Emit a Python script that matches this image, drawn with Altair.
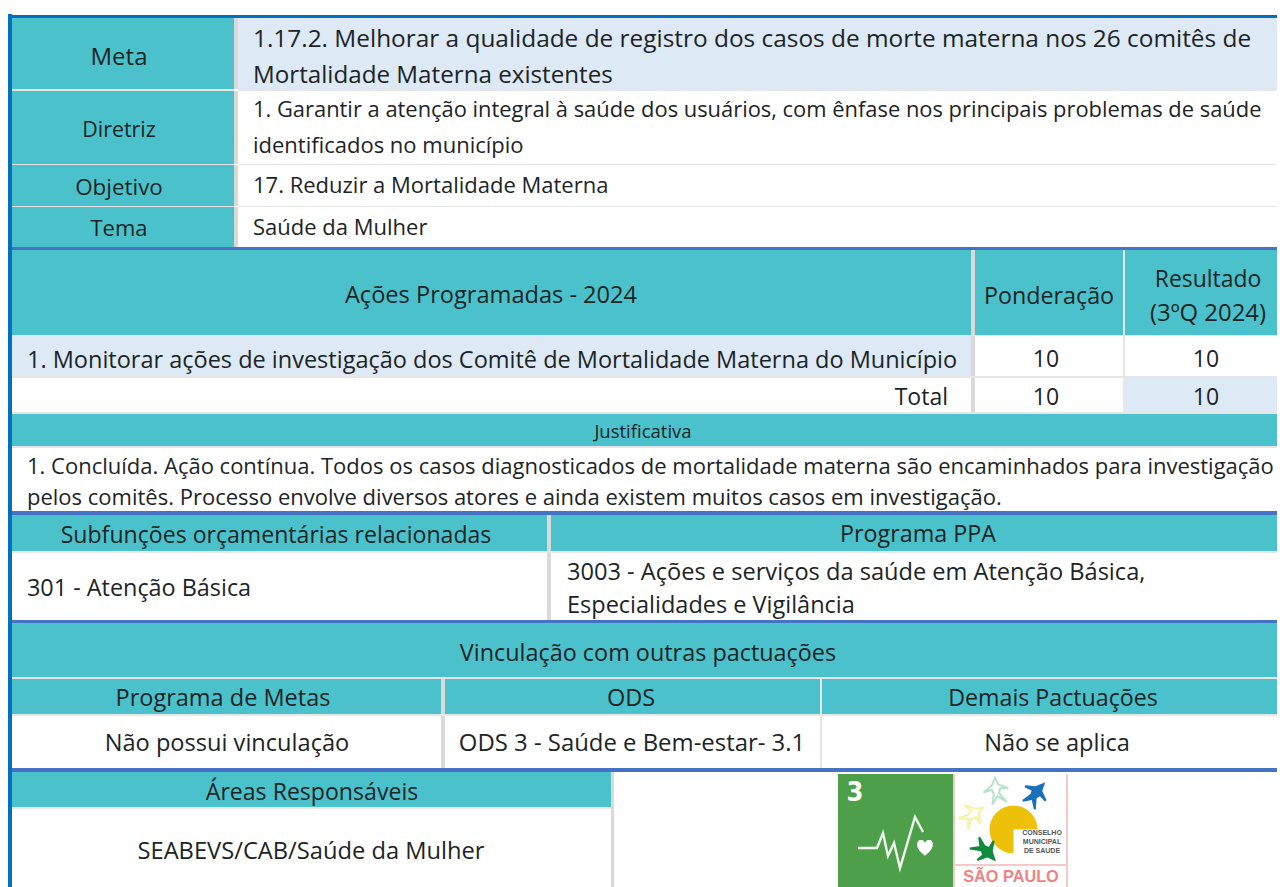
import altair as alt
import pandas as pd

FONT = "Open Sans"
TEAL = "#4BC2CB"
PALE = "#DDE9F5"
BLUE = "#4472C4"
EDGE = "#0070C0"
GREY = "#D9D9D9"
LINE = "#E7E6E6"
WHITE = "#FFFFFF"
INK = "#1C2426"

# table cells: left, right, top, bottom, fill
cell_x0 = [8, 8, 12, 234, 238, 12, 234, 238, 12, 234, 238, 12, 234, 238, 12, 12, 971, 975, 1123, 1125, 12, 971, 975, 1123, 1125, 12, 971, 975, 1123, 1125,
           12, 12, 12, 547, 551, 12, 547, 551, 12, 12, 441, 445, 820, 822, 12, 441, 445, 820, 822, 12, 12, 611]
cell_x1 = [12, 1285, 234, 238, 1285, 234, 238, 1285, 234, 238, 1285, 234, 238, 1285, 1285, 971, 975, 1123, 1125, 1285, 971, 975, 1123, 1125, 1285, 971, 975, 1123, 1125, 1285,
           1285, 1285, 547, 551, 1285, 547, 551, 1285, 1285, 441, 445, 820, 822, 1285, 441, 445, 820, 822, 1285, 611, 611, 614]
cell_y0 = [14, 15, 18, 18, 18, 91, 91, 91, 165, 165, 165, 207, 207, 207, 247, 250, 250, 250, 250, 250, 336, 336, 336, 336, 336, 378, 378, 378, 378, 378,
           414, 448, 515, 515, 515, 553, 553, 553, 623, 679, 679, 679, 679, 679, 716, 716, 716, 716, 716, 772, 809, 772]
cell_y1 = [887, 18, 89, 89, 89, 164, 164, 164, 206, 206, 206, 247, 247, 247, 250, 335, 335, 335, 335, 335, 376, 376, 376, 376, 376, 412, 412, 412, 412, 412,
           446, 511, 551, 551, 551, 620, 623, 620, 677, 714, 714, 714, 714, 714, 768, 772, 768, 768, 768, 807, 887, 887]
cell_fill = [EDGE, EDGE, TEAL, GREY, PALE, TEAL, GREY, WHITE, TEAL, GREY, WHITE, TEAL, GREY, WHITE, BLUE, TEAL, GREY, TEAL, LINE, TEAL, PALE, GREY, WHITE, LINE, WHITE, WHITE, GREY, WHITE, LINE, PALE,
             TEAL, WHITE, TEAL, GREY, TEAL, WHITE, GREY, WHITE, TEAL, TEAL, GREY, TEAL, LINE, TEAL, WHITE, GREY, WHITE, LINE, WHITE, TEAL, WHITE, GREY]

# horizontal rules between rows: left, right, top, bottom, colour
rule_x0 = [12, 238, 12, 238, 12, 238, 12, 12, 12, 12, 12, 12, 12, 12, 12, 12, 12]
rule_x1 = [234, 1285, 234, 1285, 234, 1285, 1285, 1285, 1285, 1285, 1285, 1285, 1285, 1285, 1285, 1285, 611]
rule_y0 = [89, 89, 164, 164, 206, 206, 335, 376, 412, 446, 511, 551, 620, 677, 714, 768, 807]
rule_y1 = [91, 91, 165, 165, 207, 207, 336, 378, 414, 448, 515, 553, 623, 679, 716, 772, 809]
rule_c = ["#E4E4E4", LINE, "#E4E4E4", LINE, "#E4E4E4", LINE, LINE, LINE, LINE, LINE, BLUE, LINE, BLUE, LINE, LINE, BLUE, LINE]

# text rows
left_text = [
    "1.17.2. Melhorar a qualidade de registro dos casos de morte materna nos 26 comitês de",
    "Mortalidade Materna existentes",
    "1. Garantir a atenção integral à saúde dos usuários, com ênfase nos principais problemas de saúde",
    "identificados no município",
    "17. Reduzir a Mortalidade Materna",
    "Saúde da Mulher",
    "1. Monitorar ações de investigação dos Comitê de Mortalidade Materna do Município",
    "1. Concluída. Ação contínua. Todos os casos diagnosticados de mortalidade materna são encaminhados para investigação",
    "pelos comitês. Processo envolve diversos atores e ainda existem muitos casos em investigação.",
    "301 - Atenção Básica",
    "3003 - Ações e serviços da saúde em Atenção Básica,",
    "Especialidades e Vigilância",
]
left_x = [253, 253, 253, 253, 253, 253, 27, 27, 27, 27, 567, 567]
left_y = [38, 74, 108, 144, 184, 226, 359, 465, 496, 587, 571, 604]
left_size = [24.4, 24.2, 21.9, 22, 22, 22, 23.5, 22, 22, 23.4, 23.6, 23.5]

center_text = ["Meta", "Diretriz", "Objetivo", "Tema", "Ações Programadas - 2024", "Ponderação", "Resultado", "(3ºQ 2024)",
               "10", "10", "10", "10", "Justificativa", "Subfunções orçamentárias relacionadas", "Programa PPA",
               "Vinculação com outras pactuações", "Programa de Metas", "ODS", "Demais Pactuações",
               "Não possui vinculação", "ODS 3 - Saúde e Bem-estar- 3.1", "Não se aplica",
               "Áreas Responsáveis", "SEABEVS/CAB/Saúde da Mulher"]
center_x = [119, 119, 119, 119, 491, 1049, 1208, 1208, 1046, 1206, 1046, 1206, 643, 276, 918, 648, 223, 631, 1053, 227, 632, 1057, 312, 311]
center_y = [56, 129, 186, 227, 294, 295, 278, 312, 358, 358, 396, 396, 430, 534, 533, 652, 697, 697, 697, 742, 742, 742, 791, 850]
center_size = [24, 21.4, 22.4, 22, 23.6, 23.3, 22.9, 23.9, 23, 23, 23, 23, 18.5, 23.1, 23.3, 23.4, 23.5, 23.5, 23.2, 23.6, 23.9, 23.6, 23.1, 23.7]

right_text = ["Total"]
right_x = [948]
right_y = [396]
right_size = [23]

# emblem
logo_x0 = [838, 953, 1066, 955]
logo_x1 = [953, 955, 1068, 1068]
logo_y0 = [774, 774, 774, 864]
logo_y1 = [887, 887, 887, 866]
logo_c = ["#4E9F4A", "#F6C9C6", "#F6C9C6", "#F6C9C6"]

pulse_x = [858, 877, 883, 888, 894, 900, 915, 923]
pulse_y = [848, 848, 833, 856, 843, 868, 817, 832]

BIRD = "M0.1,-1 L0.25,-0.45 L0.95,-0.05 L0.35,-0.15 L0.2,0.2 L0.65,0.95 L0.05,0.4 L-0.45,0.95 L-0.2,0.2 L-0.3,-0.15 L-0.95,-0.05 L-0.25,-0.45 Z"
HEART = "M0,1 C-1.3,0.1 -1,-0.9 -0.4,-0.8 C-0.2,-0.8 0,-0.6 0,-0.4 C0,-0.6 0.2,-0.8 0.4,-0.8 C1,-0.9 1.3,0.1 0,1 Z"
bird_x = [996, 1035, 972, 985]
bird_y = [791, 794, 815, 850]
bird_fill = ["#FFFFFF", "#1B70BB", "#FFFFFF", "#108A3E"]
bird_stroke = ["#B7E2CB", "#1B70BB", "#F8F2A6", "#108A3E"]
bird_angle = [350, 35, 50, 130]

small_text = ["CONSELHO", "MUNICIPAL", "DE SAUDE"]
small_y = [833, 842, 851]

xs = alt.Scale(domain=[8, 1277], range=[0, 1269])
ys = alt.Scale(domain=[8, 887], range=[0, 879])
X = lambda f, t="Q": alt.X(f"{f}:{t}", scale=xs, axis=None)
Y = lambda f, t="Q": alt.Y(f"{f}:{t}", scale=ys, axis=None)


def boxes(x0, x1, y0, y1, c):
    df = pd.DataFrame({"x0": x0, "x1": [min(v, 1277) for v in x1], "y0": y0, "y1": y1, "c": c})
    return alt.Chart(df).mark_rect(strokeWidth=0).encode(
        x=X("x0"), x2="x1:Q", y=Y("y0"), y2="y1:Q", color=alt.Color("c:N", scale=None))


def texts(t, x, y, s, align):
    df = pd.DataFrame({"t": t, "x": x, "y": y, "s": s})
    return alt.Chart(df).mark_text(font=FONT, align=align, baseline="middle", color=INK, dy=1.5).encode(
        x=X("x"), y=Y("y"), text="t:N", size=alt.Size("s:Q", scale=None))


layers = [
    boxes(cell_x0, cell_x1, cell_y0, cell_y1, cell_fill),
    boxes(rule_x0, rule_x1, rule_y0, rule_y1, rule_c),
    texts(left_text, left_x, left_y, left_size, "left"),
    texts(center_text, center_x, center_y, center_size, "center"),
    texts(right_text, right_x, right_y, right_size, "right"),
    boxes(logo_x0, logo_x1, logo_y0, logo_y1, logo_c),
    alt.Chart(pd.DataFrame({"x": pulse_x, "y": pulse_y, "o": range(len(pulse_x))})).mark_line(
        color="#F2F7EE", strokeWidth=2.4).encode(x=X("x"), y=Y("y"), order="o:Q"),
    alt.Chart(pd.DataFrame({"x": [925], "y": [847]})).mark_point(
        shape=HEART, size=300, filled=True, color="#FFFFFF", opacity=1).encode(x=X("x"), y=Y("y")),
    alt.Chart(pd.DataFrame({"x": [855], "y": [793], "t": ["3"]})).mark_text(
        font="DejaVu Sans Condensed", fontWeight="bold", fontSize=27, color="#FFFFFF").encode(
        x=X("x"), y=Y("y"), text="t:N"),
    alt.Chart(pd.DataFrame({"x": [1013.5], "y": [829.5]})).mark_arc(
        radius=24, theta=3.14159, theta2=7.854, color="#EDC00A").encode(x=X("x"), y=Y("y")),
    alt.Chart(pd.DataFrame({"x": bird_x, "y": bird_y, "f": bird_fill, "s": bird_stroke, "a": bird_angle})).mark_point(
        shape=BIRD, size=700, filled=True, opacity=1, strokeWidth=2).encode(
        x=X("x"), y=Y("y"), fill=alt.Fill("f:N", scale=None), stroke=alt.Stroke("s:N", scale=None),
        angle=alt.Angle("a:Q", scale=None)),
    alt.Chart(pd.DataFrame({"x": [1042] * 3, "y": small_y, "t": small_text})).mark_text(
        font="Liberation Sans", fontWeight="bold", fontSize=7, color="#555555").encode(
        x=X("x"), y=Y("y"), text="t:N"),
    alt.Chart(pd.DataFrame({"x": [1011], "y": [877], "t": ["SÃO PAULO"]})).mark_text(
        font="Liberation Sans", fontWeight="bold", fontSize=16.3, color="#EE8383").encode(
        x=X("x"), y=Y("y"), text="t:N"),
]

chart = alt.layer(*layers).properties(
    width=1269, height=879, padding=0, autosize=alt.AutoSizeParams(type="none"), background="#FFFFFF"
).configure_view(stroke=None)

chart.save("out.html", embed_options={"renderer": "svg", "actions": False})
